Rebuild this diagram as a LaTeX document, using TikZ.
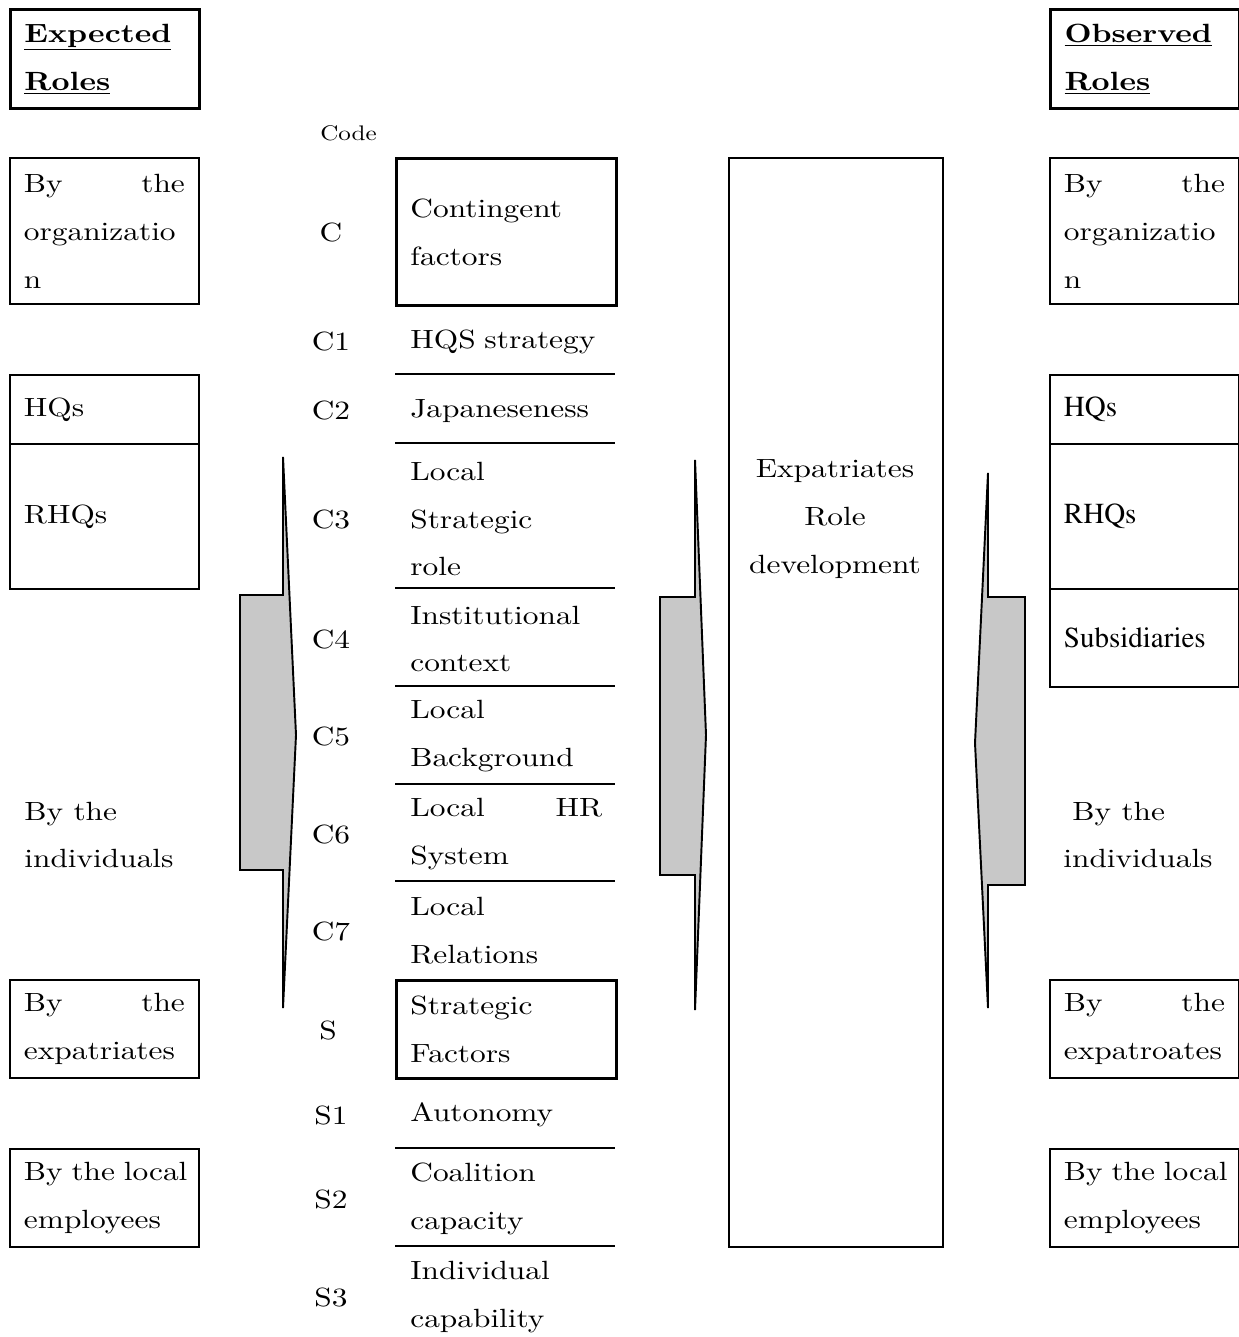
\documentclass[tikz,border=0pt]{standalone}
\usepackage[T1]{fontenc}
\usepackage{fontspec}
\setmainfont{lmroman10-regular.otf}[BoldFont=lmroman10-bold.otf, FakeStretch=1.19]
\newcommand\obsfont{\fontencoding{T1}\fontfamily{ptm}\selectfont}
\usepackage{tikz}
\usetikzlibrary{positioning}
\definecolor{arrowgray}{RGB}{200,200,200}
\hyphenpenalty=10000
\exhyphenpenalty=10000

\begin{document}
\begin{tikzpicture}[
    x=0.02cm, y=-0.02cm,
    every node/.style={font=\fontsize{15}{27.3}\selectfont},
    rolebox/.style={rectangle, draw, line width=1.1pt, anchor=north west, minimum width=3.78cm, inner xsep=0.28cm, inner ysep=0pt, text width=3.22cm, align=left},
    headbox/.style={rolebox, line width=1.7pt},
    obsbox/.style={rolebox, font=\obsfont\fontsize{16.5}{27.3}\selectfont},
    factorbox/.style={rolebox, line width=1.7pt, minimum width=4.4cm, text width=3.84cm},
    factor/.style={anchor=west, inner sep=0pt, text width=3.84cm, align=left},
    code/.style={inner sep=0pt},
    bigarrow/.style={draw, line width=1.1pt, fill=arrowgray, line join=miter},
]
    \useasboundingbox (0,0) rectangle (1239,1337);

    % expected roles
    \node[headbox, minimum height=1.98cm] (expL) at (9,8) {\underline{\textbf{Expected}}\\\underline{\textbf{Roles}}};
    \node[rolebox, minimum height=2.92cm] (orgL) at (9,157) {By \hfill the\\organizatio\\n};
    \node[rolebox, minimum height=1.38cm] (hqL) at (9,374) {HQs};
    \node[rolebox, minimum height=2.9cm] (rhqL) at (9,443) {RHQs};
    \node[anchor=west, align=left, inner sep=0pt] (indL) at (24,835) {By the\\individuals};
    \node[rolebox, minimum height=1.96cm] (expatL) at (9,979) {By \hfill the\\expatriates};
    \node[rolebox, minimum height=1.96cm] (localL) at (9,1148) {\mbox{By the local}\\employees};

    % codes
    \node[anchor=west, inner sep=0pt, font=\fontsize{12}{14}\selectfont] (codehead) at (320,133) {Code};
    \node[code] (cC) at (331,233) {C};
    \node[code] (cC1) at (331,342) {C1};
    \node[code] (cC2) at (331,411) {C2};
    \node[code] (cC3) at (331,519) {C3};
    \node[code] (cC4) at (331,639) {C4};
    \node[code] (cC5) at (331,736) {C5};
    \node[code] (cC6) at (331,834) {C6};
    \node[code] (cC7) at (331,931) {C7};
    \node[code] (cS) at (328,1030) {S};
    \node[code] (cS1) at (331,1115) {S1};
    \node[code] (cS2) at (331,1199) {S2};
    \node[code] (cS3) at (331,1297) {S3};

    % factors
    \node[factorbox, minimum height=2.94cm] (contf) at (395,157) {Contingent\\factors};
    \node[factor] (fC1) at (410,342) {HQS strategy};
    \node[factor] (fC2) at (410,411) {Japaneseness};
    \node[factor] (fC3) at (410,519) {Local\\Strategic\\role};
    \node[factor] (fC4) at (410,639) {Institutional\\context};
    \node[factor] (fC5) at (410,736) {Local\\Background};
    \node[factor] (fC6) at (410,834) {Local \hfill HR\\System};
    \node[factor] (fC7) at (410,931) {Local\\Relations};
    \node[factorbox, minimum height=1.96cm] (stratf) at (395,979) {Strategic\\Factors};
    \node[factor] (fS1) at (410,1115) {Autonomy};
    \node[factor] (fS2) at (410,1199) {Coalition\\capacity};
    \node[factor] (fS3) at (410,1297) {Individual\\capability};
    \foreach \y in {374,443,588,686,784,881,1148,1246}
        \draw[line width=1.1pt] (395,\y) -- (615,\y);

    % role development
    \node[draw, line width=1.1pt, anchor=north west, minimum width=4.28cm, minimum height=21.78cm, inner sep=0pt] (devbox) at (728,157) {};
    \node[align=center, inner sep=0pt] (devtxt) at (835,519) {Expatriates\\Role\\development};

    % observed roles
    \node[headbox, minimum height=1.98cm] (obsR) at (1049,8) {\underline{\textbf{Observed}}\\\underline{\textbf{Roles}}};
    \node[rolebox, minimum height=2.92cm] (orgR) at (1049,157) {By \hfill the\\organizatio\\n};
    \node[obsbox, minimum height=1.38cm] (hqR) at (1049,374) {HQs};
    \node[obsbox, minimum height=2.9cm] (rhqR) at (1049,443) {RHQs};
    \node[obsbox, minimum height=1.96cm] (subR) at (1049,588) {Subsidiaries};
    \node[anchor=west, align=left, inner sep=0pt] (indR) at (1063,835) {\hspace*{0.18cm}By the\\individuals};
    \node[rolebox, minimum height=1.96cm] (expatR) at (1049,979) {By \hfill the\\expatroates};
    \node[rolebox, minimum height=1.96cm] (localR) at (1049,1148) {\mbox{By the local}\\employees};

    % block arrows
    \draw[bigarrow] (283,457) -- (283,595) -- (240,595) -- (240,870) -- (283,870) -- (283,1008) -- (296,735) -- cycle;
    \draw[bigarrow] (695,460) -- (695,597) -- (660,597) -- (660,875) -- (695,875) -- (695,1010) -- (706,735) -- cycle;
    \draw[bigarrow] (988,473) -- (988,597) -- (1025,597) -- (1025,885) -- (988,885) -- (988,1008) -- (975,743) -- cycle;
\end{tikzpicture}
\end{document}
